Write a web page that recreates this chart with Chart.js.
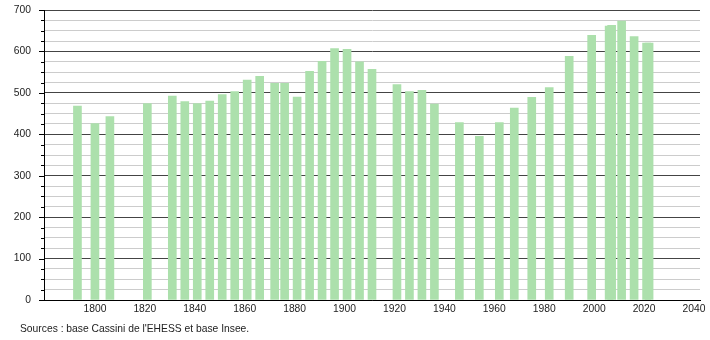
<!DOCTYPE html>
<html>
<head>
<meta charset="utf-8">
<script src="https://cdn.jsdelivr.net/npm/chart.js@4/dist/chart.umd.min.js"></script>
<style>
  html, body { margin: 0; padding: 0; background: #fff; }
  #wrap { width: 710px; height: 340px; }
</style>
</head>
<body>
<div id="wrap"><canvas id="popChart" width="710" height="340"></canvas></div>
<script>
const years = [1793, 1800, 1806, 1821, 1831, 1836, 1841, 1846, 1851, 1856,
  1861, 1866, 1872, 1876, 1881, 1886, 1891, 1896, 1901, 1906,
  1911, 1921, 1926, 1931, 1936, 1946, 1954, 1962, 1968, 1975,
  1982, 1990, 1999, 2006, 2007, 2011, 2016, 2021, 2022];
const population = [468, 426, 443, 474, 492, 479, 474, 480, 496, 503,
  531, 540, 523, 523, 490, 552, 576, 607, 605, 575,
  557, 520, 503, 506, 473, 428, 395, 428, 463, 489,
  513, 588, 639, 661, 663, 673, 636, 620, 620];
const xTicks = [1800, 1820, 1840, 1860, 1880, 1900, 1920, 1940, 1960, 1980, 2000, 2020, 2040];
const sourceText = "Sources : base Cassini de l'EHESS et base Insee.";

Chart.defaults.font.family = "'Liberation Sans', Arial, sans-serif";
Chart.defaults.font.size = 10.3;
Chart.defaults.color = '#222';

// small tick marks on the y axis, longer on the hundreds
const yTickMarks = {
  id: 'yTickMarks',
  afterDraw(chart) {
    const c = chart.ctx;
    const y = chart.scales.y;
    c.save();
    c.strokeStyle = '#000';
    c.lineWidth = 1;
    y.ticks.forEach(t => {
      const py = Math.round(y.getPixelForValue(t.value)) + 0.5;
      const len = t.value % 100 === 0 ? 5 : 3;
      c.beginPath();
      c.moveTo(y.right - len, py);
      c.lineTo(y.right, py);
      c.stroke();
    });
    c.fillStyle = '#222';
    c.textAlign = 'left';
    c.textBaseline = 'middle';
    c.font = "10.3px 'Liberation Sans', Arial, sans-serif";
    c.fillText(sourceText, 20, 329);
    c.restore();
  }
};

new Chart(document.getElementById('popChart'), {
  type: 'bar',
  data: {
    datasets: [{
      data: years.map((yr, i) => ({ x: yr, y: population[i] })),
      backgroundColor: 'rgb(172, 224, 172)',
      borderWidth: 0,
      barThickness: 8
    }]
  },
  options: {
    responsive: false,
    animation: false,
    events: [],
    layout: { padding: { left: 0, right: 10, top: 10, bottom: 20 } },
    plugins: { legend: { display: false }, tooltip: { enabled: false } },
    scales: {
      x: {
        type: 'linear',
        offset: false,
        min: 1779.6,
        max: 2042.4,
        afterBuildTicks: s => { s.ticks = xTicks.map(v => ({ value: v })); },
        afterFit: s => { s.height = 20; },
        grid: { display: false, drawTicks: false, offset: false },
        border: { display: true, color: '#000' },
        ticks: { padding: 3, maxRotation: 0, autoSkip: false, callback: v => String(v) }
      },
      y: {
        min: 0,
        max: 700,
        afterFit: s => { s.width = 44; },
        ticks: {
          stepSize: 25,
          padding: 0,
          autoSkip: false,
          callback: v => (v % 100 === 0 ? String(v) : '')
        },
        grid: {
          drawTicks: true,
          tickLength: 13,
          tickColor: 'rgba(0,0,0,0)',
          color: ctx => (ctx.tick && ctx.tick.value % 100 === 0 ? '#444' : '#cccccc'),
          lineWidth: 1
        },
        border: { display: true, color: '#000' }
      }
    }
  },
  plugins: [yTickMarks]
});
</script>
</body>
</html>
